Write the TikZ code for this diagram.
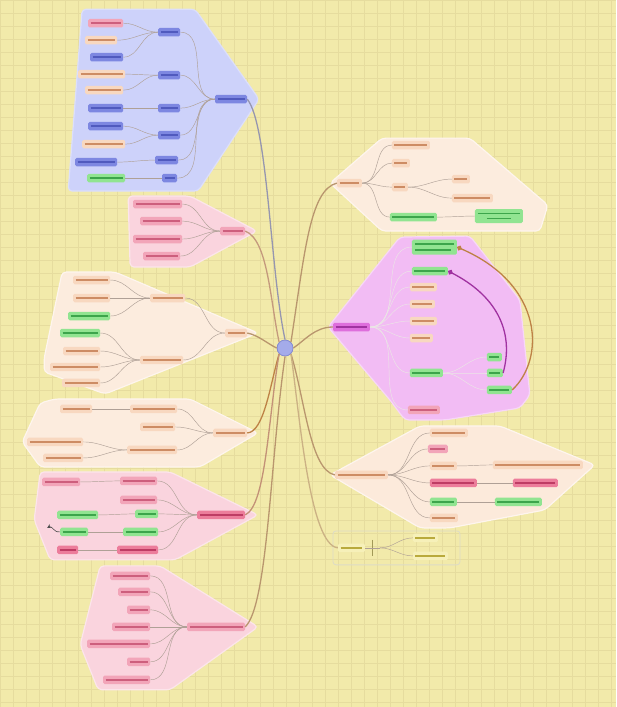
\documentclass[tikz,border=0pt]{standalone}
\usetikzlibrary{arrows.meta}
\definecolor{bg}{RGB}{242,234,170}
\definecolor{gridc}{RGB}{230,220,158}
\definecolor{hblue}{RGB}{205,210,250}
\definecolor{hpink}{RGB}{250,212,222}
\definecolor{hpeach}{RGB}{252,236,222}
\definecolor{hmag}{RGB}{242,188,244}
\definecolor{fblue}{RGB}{125,135,225}
\definecolor{lblue}{RGB}{80,90,190}
\definecolor{fpink}{RGB}{242,165,185}
\definecolor{lpink}{RGB}{205,95,125}
\definecolor{fred}{RGB}{236,125,155}
\definecolor{lred}{RGB}{190,60,100}
\definecolor{fpeach}{RGB}{248,216,192}
\definecolor{lpeach}{RGB}{205,140,100}
\definecolor{fgreen}{RGB}{145,228,145}
\definecolor{lgreen}{RGB}{60,165,75}
\definecolor{fmag}{RGB}{222,110,220}
\definecolor{lmag}{RGB}{160,50,160}
\definecolor{fyel}{RGB}{246,240,185}
\definecolor{lyel}{RGB}{185,170,60}
\definecolor{edgec}{RGB}{175,160,150}
\definecolor{conn}{RGB}{185,150,110}
\definecolor{connb}{RGB}{150,150,175}
\definecolor{brownc}{RGB}{190,130,70}
\newcommand\bx[5]{\node[#1, minimum width={(#4-#3)*1pt}] (#2) at ({(#3+#4)/2},#5) {};}
\begin{document}
\begin{tikzpicture}[x=1pt,y=-1pt,
  base/.style={inner sep=0pt, minimum height=8.5pt, rounded corners=1.5pt},
  tl/.style={path picture={\draw[#1, line width=1.5pt] ([xshift=2.5pt]path picture bounding box.west) -- ([xshift=-2.5pt]path picture bounding box.east);}},
  bb/.style={base, fill=fblue, tl=lblue},
  pk/.style={base, fill=fpink, tl=lpink},
  rd/.style={base, fill=fred, tl=lred},
  pc/.style={base, fill=fpeach, tl=lpeach},
  gr/.style={base, fill=fgreen, tl=lgreen},
  mg/.style={base, fill=fmag, tl=lmag},
  yl/.style={base, fill=fyel, tl=lyel},
  hull/.style={rounded corners=4pt, line width=1.2pt},
  ed/.style={edgec, line width=0.45pt},
  cn/.style={conn, line width=1.3pt}]
\fill[bg] (0,0) rectangle (616,707);
\foreach \i in {0,13,...,616} \draw[gridc, line width=0.4pt] (\i,0) -- (\i,707);
\foreach \j in {0,13,...,707} \draw[gridc, line width=0.4pt] (0,\j) -- (616,\j);
\useasboundingbox (0,0) rectangle (616,707);

% hulls
\filldraw[hull, fill=hblue, draw=hblue!70!white] (82,9) -- (195,9) -- (259,99) -- (198,191) -- (68,191) -- (72,140) -- cycle;
\filldraw[hull, fill=hpink, draw=hpink!60!white] (128,196) -- (190,196) -- (257,231) -- (190,267) -- (130,267) -- cycle;
\filldraw[hull, fill=hpeach, draw=hpeach!50!white] (62,272) -- (115,272) -- (258,333) -- (105,394) -- (44,372) -- (44,358) -- cycle;
\filldraw[hull, fill=hpeach, draw=hpeach!50!white] (55,399) -- (190,399) -- (258,433) -- (200,467) -- (40,467) -- (22,442) -- (40,403) -- cycle;
\filldraw[hull, fill=hpink, draw=hpink!60!white] (40,472) -- (170,472) -- (258,515) -- (175,560) -- (50,560) -- (34,520) -- cycle;
\filldraw[hull, fill=hpink, draw=hpink!60!white] (100,566) -- (160,566) -- (258,627) -- (170,690) -- (98,690) -- (80,645) -- cycle;
\filldraw[hull, fill=hpeach, draw=hpeach!50!white] (330,183) -- (382,138) -- (470,138) -- (548,205) -- (540,231) -- (382,231) -- cycle;
\filldraw[hull, fill=hmag, draw=hmag!60!white] (328,327) -- (400,237) -- (470,236) -- (520,300) -- (530,395) -- (520,408) -- (445,420) -- (405,420) -- (390,400) -- cycle;
\filldraw[hull, fill=hpeach!90!fpeach, draw=hpeach!50!white] (330,475) -- (420,426) -- (500,426) -- (595,465) -- (545,510) -- (450,528) -- (420,528) -- cycle;
\draw[rounded corners=3pt, draw=fyel!60!gray!60, line width=0.8pt] (333,531) rectangle (460,565);

% central node
\node[circle, fill=fblue!70!white, draw=lblue!70!white, line width=0.8pt, minimum size=16pt, inner sep=0pt] (c) at (285,348) {};

% ---------- group 1 (blue)
\bx{bb}{g1r}{215}{247}{99}
\bx{bb}{g1m1}{158}{180}{32}
\bx{bb}{g1m2}{158}{180}{75}
\bx{bb}{g1m3}{158}{180}{108}
\bx{bb}{g1m4}{158}{180}{135}
\bx{bb}{g1m5}{155}{178}{160}
\bx{bb}{g1m6}{162}{177}{178}
\bx{pk}{g1a}{88}{123}{23}
\bx{pc}{g1b}{85}{117}{40}
\bx{bb}{g1c}{90}{123}{57}
\bx{pc}{g1d}{78}{125}{74}
\bx{pc}{g1e}{85}{123}{90}
\bx{bb}{g1f}{88}{123}{108}
\bx{bb}{g1g}{88}{123}{126}
\bx{pc}{g1h}{82}{125}{144}
\bx{bb}{g1i}{75}{117}{162}
\bx{gr}{g1j}{87}{125}{178}
\foreach \m in {g1m1,g1m2,g1m3,g1m4,g1m5,g1m6} \draw[ed] (g1r.west) to[out=180,in=0] (\m.east);
\foreach \p/\k in {g1m1/g1a,g1m1/g1b,g1m1/g1c,g1m2/g1d,g1m2/g1e,g1m3/g1f,g1m4/g1g,g1m4/g1h,g1m5/g1i,g1m6/g1j}
  \draw[ed] (\p.west) to[out=180,in=0] (\k.east);

% ---------- group 2 (pink)
\bx{pk}{g2r}{220}{245}{231}
\bx{pk}{g2a}{133}{182}{204}
\bx{pk}{g2b}{140}{182}{221}
\bx{pk}{g2c}{133}{182}{239}
\bx{pk}{g2d}{143}{180}{256}
\foreach \k in {g2a,g2b,g2c,g2d} \draw[ed] (g2r.west) to[out=180,in=0] (\k.east);

% ---------- group 3 (peach)
\bx{pc}{g3r}{225}{247}{333}
\bx{pc}{g3m1}{150}{185}{298}
\bx{pc}{g3m2}{140}{183}{360}
\bx{pc}{g3a}{73}{110}{280}
\bx{pc}{g3b}{73}{110}{298}
\bx{gr}{g3c}{68}{110}{316}
\bx{gr}{g3d}{60}{100}{333}
\bx{pc}{g3e}{63}{100}{351}
\bx{pc}{g3f}{50}{100}{367}
\bx{pc}{g3g}{62}{100}{383}
\foreach \m in {g3m1,g3m2} \draw[ed] (g3r.west) to[out=180,in=0] (\m.east);
\foreach \p/\k in {g3m1/g3a,g3m1/g3b,g3m1/g3c,g3m2/g3d,g3m2/g3e,g3m2/g3f,g3m2/g3g}
  \draw[ed] (\p.west) to[out=180,in=0] (\k.east);

% ---------- group 4 (peach)
\bx{pc}{g4r}{213}{247}{433}
\bx{pc}{g4m1}{130}{177}{409}
\bx{pc}{g4m2}{140}{175}{427}
\bx{pc}{g4m3}{127}{177}{450}
\bx{pc}{g4a}{60}{92}{409}
\bx{pc}{g4b}{27}{83}{442}
\bx{pc}{g4c}{43}{83}{458}
\foreach \m in {g4m1,g4m2,g4m3} \draw[ed] (g4r.west) to[out=180,in=0] (\m.east);
\foreach \p/\k in {g4m1/g4a,g4m3/g4b,g4m3/g4c}
  \draw[ed] (\p.west) to[out=180,in=0] (\k.east);

% ---------- group 5 (pink)
\bx{rd}{g5r}{197}{245}{515}
\bx{pk}{g5m1}{120}{157}{481}
\bx{pk}{g5m2}{120}{157}{500}
\bx{gr}{g5m3}{135}{158}{514}
\bx{gr}{g5m4}{123}{158}{532}
\bx{rd}{g5m5}{117}{158}{550}
\bx{pk}{g5a}{42}{80}{482}
\bx{gr}{g5b}{57}{98}{515}
\bx{gr}{g5c}{60}{88}{532}
\bx{rd}{g5d}{57}{78}{550}
\foreach \m in {g5m1,g5m2,g5m3,g5m4,g5m5} \draw[ed] (g5r.west) to[out=180,in=0] (\m.east);
\foreach \p/\k in {g5m1/g5a,g5m3/g5b,g5m4/g5c,g5m5/g5d}
  \draw[ed] (\p.west) to[out=180,in=0] (\k.east);
\coordinate (g5x) at (47,528);
\draw[ed, -{Stealth[length=4pt,width=4pt]}, draw=black!70, line width=0.6pt] (g5c.west) to[out=200,in=30] (g5x);

% ---------- group 6 (pink)
\bx{pk}{g6r}{187}{245}{627}
\bx{pk}{g6a}{110}{150}{576}
\bx{pk}{g6b}{118}{150}{592}
\bx{pk}{g6c}{127}{150}{610}
\bx{pk}{g6d}{112}{150}{627}
\bx{pk}{g6e}{87}{150}{644}
\bx{pk}{g6f}{127}{150}{662}
\bx{pk}{g6g}{103}{150}{680}
\foreach \k in {g6a,g6b,g6c,g6d,g6e,g6f,g6g} \draw[ed] (g6r.west) to[out=180,in=0] (\k.east);

% ---------- group 7 (peach, right)
\bx{pc}{g7r}{337}{362}{183}
\bx{pc}{g7a}{392}{430}{145}
\bx{pc}{g7b}{392}{410}{163}
\bx{pc}{g7c}{392}{408}{187}
\bx{pc}{g7d}{452}{470}{179}
\bx{pc}{g7e}{452}{493}{198}
\bx{gr}{g7f}{390}{437}{217}
\node[gr, minimum width=48pt, minimum height=14pt, path picture={\draw[lgreen, line width=1.2pt] ([xshift=3pt,yshift=2.5pt]path picture bounding box.west) -- ([xshift=-3pt,yshift=2.5pt]path picture bounding box.east); \draw[lgreen, line width=1.2pt] ([xshift=12pt,yshift=-2.5pt]path picture bounding box.west) -- ([xshift=-12pt,yshift=-2.5pt]path picture bounding box.east);}] (g7g) at (499,216) {};
\foreach \k in {g7a,g7b,g7c,g7f} \draw[ed] (g7r.east) to[out=0,in=180] (\k.west);
\foreach \p/\k in {g7c/g7d,g7c/g7e,g7f/g7g} \draw[ed] (\p.east) to[out=0,in=180] (\k.west);

% ---------- group 8 (magenta)
\bx{mg}{g8r}{333}{370}{327}
\node[gr, minimum width=45pt, minimum height=15pt, path picture={\draw[lgreen, line width=1.2pt] ([xshift=3pt,yshift=3pt]path picture bounding box.west) -- ([xshift=-3pt,yshift=3pt]path picture bounding box.east); \draw[lgreen, line width=1.2pt] ([xshift=3pt,yshift=-3pt]path picture bounding box.west) -- ([xshift=-6pt,yshift=-3pt]path picture bounding box.east);}] (g8a) at (434.5,247) {};
\bx{gr}{g8b}{412}{448}{271}
\bx{pc}{g8c}{410}{437}{287}
\bx{pc}{g8d}{410}{435}{304}
\bx{pc}{g8e}{410}{437}{321}
\bx{pc}{g8f}{410}{433}{338}
\bx{gr}{g8g}{410}{443}{373}
\bx{pk}{g8h}{408}{440}{410}
\bx{gr}{g8i}{487}{502}{357}
\bx{gr}{g8j}{487}{503}{373}
\bx{gr}{g8k}{487}{512}{390}
\foreach \k in {g8a,g8b,g8c,g8d,g8e,g8f,g8g,g8h} \draw[ed, draw=white!75!edgec] (g8r.east) to[out=0,in=180] (\k.west);
\foreach \k in {g8i,g8j,g8k} \draw[ed, draw=white!75!edgec] (g8g.east) to[out=0,in=180] (\k.west);
\draw[brownc, line width=1.3pt, -{Circle[length=5pt]}] (g8k.east) .. controls (545,360) and (545,285) .. (g8a.east);
\draw[lmag, line width=1.3pt, -{Circle[length=5pt]}] (g8j.east) .. controls (515,330) and (495,295) .. (g8b.east);

% ---------- group 9 (peach)
\bx{pc}{g9r}{335}{388}{475}
\bx{pc}{g9a}{430}{468}{433}
\bx{pk}{g9b}{428}{448}{449}
\bx{pc}{g9c}{430}{457}{466}
\bx{pc}{g9d}{493}{583}{465}
\bx{rd}{g9e}{430}{477}{483}
\bx{rd}{g9f}{513}{558}{483}
\bx{gr}{g9g}{430}{457}{502}
\bx{gr}{g9h}{495}{542}{502}
\bx{pc}{g9i}{430}{458}{518}
\foreach \k in {g9a,g9b,g9c,g9e,g9g,g9i} \draw[ed] (g9r.east) to[out=0,in=180] (\k.west);
\foreach \p/\k in {g9c/g9d,g9e/g9f,g9g/g9h} \draw[ed] (\p.east) to[out=0,in=180] (\k.west);

% ---------- group 10 (yellow)
\bx{yl}{g10r}{338}{365}{548}
\bx{yl}{g10a}{413}{438}{538}
\bx{yl}{g10b}{413}{448}{556}
\coordinate (br) at (380,548);
\draw[lyel!60!gray, line width=0.7pt] (372,540) -- (372,556);
\draw[ed] (g10r.east) -- (br);
\draw[ed] (br) to[out=0,in=180] (g10a.west);
\draw[ed] (br) to[out=0,in=180] (g10b.west);

% ---------- connectors from the centre
\draw[cn, draw=connb] (c.north) .. controls (270,270) and (268,125) .. (g1r.east);
\draw[cn, draw=conn!80!fpink] (c.north west) .. controls (270,300) and (268,240) .. (g2r.east);
\draw[cn] (c.west) .. controls (268,344) and (258,335) .. (g3r.east);
\draw[cn, draw=brownc] (c.south west) .. controls (270,385) and (264,432) .. (g4r.east);
\draw[cn, draw=conn!80!fred] (c.south west) .. controls (268,420) and (266,505) .. (g5r.east);
\draw[cn] (c.south) .. controls (270,460) and (268,605) .. (g6r.east);
\draw[cn] (c.north east) .. controls (305,250) and (310,190) .. (g7r.west);
\draw[cn] (c.east) .. controls (305,340) and (315,327) .. (g8r.west);
\draw[cn] (c.south east) .. controls (305,400) and (310,470) .. (g9r.west);
\draw[cn, draw=conn!70!fyel] (c.south east) .. controls (300,420) and (310,545) .. (g10r.west);
\end{tikzpicture}
\end{document}
